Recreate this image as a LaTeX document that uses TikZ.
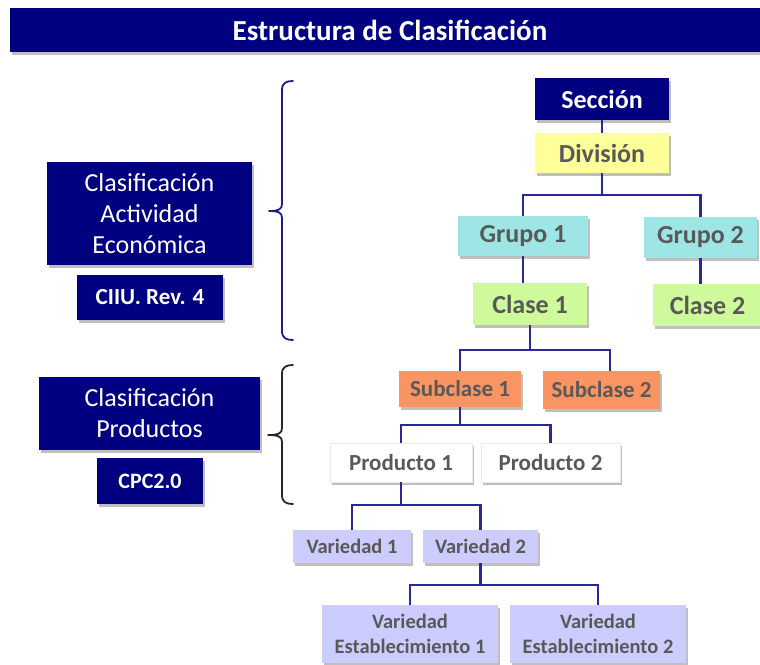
\documentclass[tikz,border=0pt]{standalone}
\usepackage{fontspec}
\setmainfont{Carlito}
\usetikzlibrary{shadows}
\definecolor{navy}{RGB}{0,0,128}
\definecolor{txtgray}{RGB}{89,89,89}
\definecolor{yel}{RGB}{255,255,153}
\definecolor{cyanbox}{RGB}{158,230,230}
\definecolor{greenbox}{RGB}{206,250,155}
\definecolor{orangebox}{RGB}{250,148,98}
\definecolor{lavbox}{RGB}{204,204,255}
\definecolor{conncol}{RGB}{40,40,150}
\definecolor{bracecol}{RGB}{30,30,130}
\tikzset{
  shad/.style={drop shadow={shadow xshift=2pt,shadow yshift=-2.5pt,opacity=0.25,fill=black}},
  box/.style={inner sep=0pt, align=center, text=txtgray, shad,
    font=\bfseries\fontsize{23}{26}\selectfont},
  bigbox/.style={box, font=\bfseries\fontsize{26}{30}\selectfont},
  smallbox/.style={box, fill=lavbox, font=\bfseries\fontsize{20.5}{25}\selectfont},
  navybox/.style={box, fill=navy, text=white},
  leftbox/.style={navybox, font=\fontsize{26}{31}\selectfont},
  conn/.style={draw=conncol, line width=2.2pt},
  bracestyle/.style={line width=1.8pt, line cap=round, line join=round},
}
\begin{document}
\begin{tikzpicture}[x=1pt,y=-1pt]
\useasboundingbox (0,0) rectangle (760,664);
% title
\node[navybox, minimum width=760pt, minimum height=44pt, font=\bfseries\fontsize{29}{32}\selectfont] (title) at (390,30) {Estructura de Clasificación};
% left boxes
\node[leftbox, minimum width=205pt, minimum height=103pt] (ae) at (149.5,213.5) {Clasificación\\Actividad\\Económica};
\node[navybox, minimum width=146pt, minimum height=45pt] (ciiu) at (150,297.5) {CIIU. Rev. 4};
\node[leftbox, minimum width=221pt, minimum height=73pt] (cp) at (149.5,413.5) {Clasificación\\Productos};
\node[navybox, minimum width=106pt, minimum height=46pt, font=\bfseries\fontsize{22}{26}\selectfont] (cpc) at (150,481) {CPC2.0};
% tree
\node[bigbox, fill=navy, text=white, minimum width=134pt, minimum height=42pt] (sec) at (602,99) {Sección};
\node[bigbox, fill=yel, minimum width=134pt, minimum height=40pt] (div) at (602,153) {División};
\node[bigbox, fill=cyanbox, minimum width=130pt, minimum height=40pt] (g1) at (523,236) {Grupo 1};
\node[bigbox, fill=cyanbox, minimum width=113pt, minimum height=41pt] (g2) at (700.5,237.5) {Grupo 2};
\node[bigbox, fill=greenbox, minimum width=114pt, minimum height=42pt] (c1) at (530,304) {Clase 1};
\node[bigbox, fill=greenbox, minimum width=109pt, minimum height=42pt] (c2) at (707.5,305) {Clase 2};
\node[box, fill=orangebox, minimum width=122pt, minimum height=36pt] (s1) at (460,389) {Subclase 1};
\node[box, fill=orangebox, minimum width=117pt, minimum height=38pt] (s2) at (601.5,390) {Subclase 2};
\node[box, fill=white, draw=black!8, line width=0.5pt, minimum width=142pt, minimum height=39pt] (p1) at (401,462.5) {Producto 1};
\node[box, fill=white, draw=black!8, line width=0.5pt, minimum width=139pt, minimum height=39pt] (p2) at (550.5,462.5) {Producto 2};
\node[smallbox, minimum width=118pt, minimum height=33pt] (v1) at (352,546.5) {Variedad 1};
\node[smallbox, minimum width=115pt, minimum height=33pt] (v2) at (480.5,546.5) {Variedad 2};
\node[smallbox, minimum width=176pt, minimum height=58pt] (ve1) at (410,634) {Variedad\\Establecimiento 1};
\node[smallbox, minimum width=176pt, minimum height=58pt] (ve2) at (598,634) {Variedad\\Establecimiento 2};
% connectors
\draw[conn] (sec) -- (div);
\draw[conn] (div.south) -- ++(0,22) coordinate (j1);
\draw[conn] (g1.north) |- (j1) -| (g2.north);
\draw[conn] (g1.south) -- (g1.south |- c1.north);
\draw[conn] (g2.south) -- (g2.south |- c2.north);
\coordinate (s2top) at (610,371);
\draw[conn] (c1.south) -- ++(0,25) coordinate (j2);
\draw[conn] (s1.north) |- (j2) -| (s2top);
\draw[conn] (s1.south) -- ++(0,18) coordinate (j3);
\draw[conn] (p1.north) |- (j3) -| (p2.north);
\draw[conn] (p1.south) -- ++(0,23) coordinate (j4);
\draw[conn] (v1.north) |- (j4) -| (v2.north);
\draw[conn] (v2.south) -- ++(0,22) coordinate (j5);
\draw[conn] (ve1.north) |- (j5) -| (ve2.north);
% braces
\draw[bracestyle, draw=bracecol] (293,81) .. controls (286,81) and (282,83) .. (282,90) -- (282,204)
  .. controls (282,209) and (279,211) .. (269,211)
  .. controls (279,211) and (282,213) .. (282,218) -- (282,331)
  .. controls (282,338) and (286,340) .. (293,340);
\draw[bracestyle, draw=black!85] (293,365) .. controls (286,365) and (282,367) .. (282,374) -- (282,428)
  .. controls (282,433) and (279,435) .. (268,435)
  .. controls (279,435) and (282,437) .. (282,442) -- (282,495)
  .. controls (282,502) and (286,504) .. (293,504);
\end{tikzpicture}
\end{document}
